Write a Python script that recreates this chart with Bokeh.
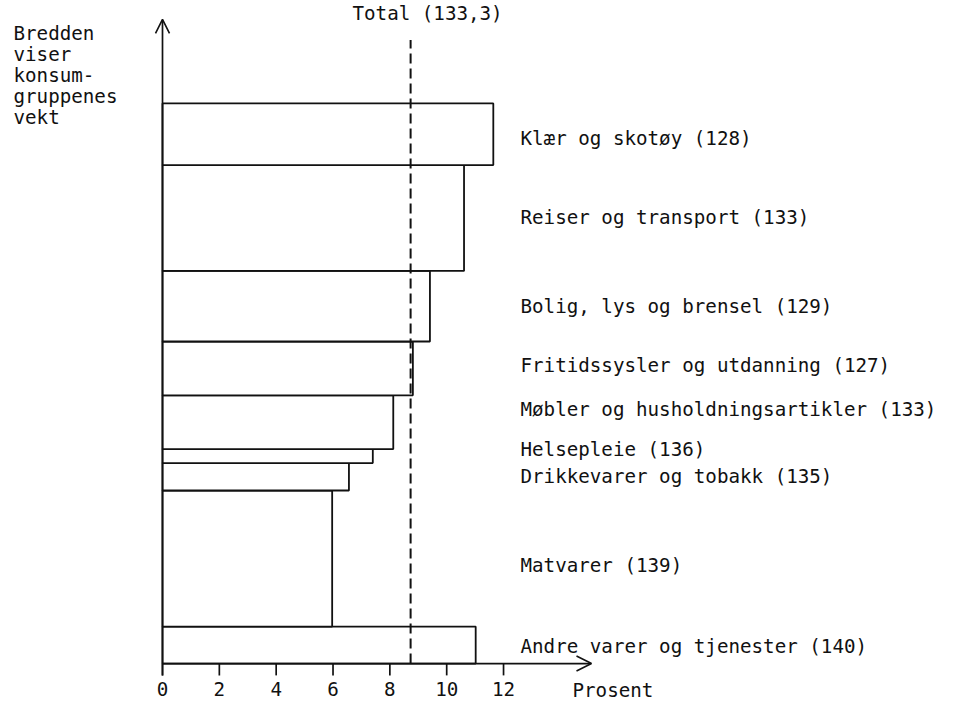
import numpy as np
from bokeh.plotting import figure
from bokeh.models import ColumnDataSource, Arrow, OpenHead, Range1d
from bokeh.core.properties import value
from bokeh.embed import file_html
from bokeh.resources import INLINE

# ---------------- data (bottom -> top) ----------------
groups = [
    "Andre varer og tjenester",
    "Matvarer",
    "Drikkevarer og tobakk",
    "Helsepleie",
    "Møbler og husholdningsartikler",
    "Fritidssysler og utdanning",
    "Bolig, lys og brensel",
    "Reiser og transport",
    "Klær og skotøy",
]
index_values = [140, 139, 135, 136, 133, 127, 129, 133, 128]
weights = [66, 243, 49, 25, 96, 96, 126, 189, 110]          # bar width = weight
pct_change = [11.02, 5.97, 6.56, 7.40, 8.12, 8.81, 9.41, 10.61, 11.64]
total_pct = 8.73
total_index = "133,3"
x_ticks = [0, 2, 4, 6, 8, 10, 12]
x_tick_labels = ["0", "2", "4", "6", "8", "10", "12"]
x_title = "Prosent"
y_title_lines = ["Bredden", "viser", "konsum-", "gruppenes", "vekt"]

# label nudges (screen px, down positive) so tight labels do not overlap
label_nudge_px = [1, 7, 0, -7, -12.7, -3, 0, -0.6, 4.4]

# ---------------- layout ----------------
W, H = 939, 703
A, B = 0.9854, -8.68          # vertical squeeze so everything fits in H
PX_X = 28.42                  # px per percent
PX_Y = 0.5684 * A             # px per weight unit
X0 = 162.0                    # canvas x of 0 %
Y0 = A * 681.7 + B            # canvas y of baseline


def cy_of(ref_y):
    return A * ref_y + B


def X(ref_x):
    return (ref_x - X0) / PX_X


def Y(ref_y):
    return (Y0 - cy_of(ref_y)) / PX_Y


def dy(pix):
    return pix * A / PX_Y


FONT = value("DejaVu Sans Mono")
FS = value("19.2px")
INK = "#111111"

p = figure(width=W, height=H, output_backend="svg", toolbar_location=None,
           x_range=Range1d(X(0), X(W)),
           y_range=Range1d((Y0 - H) / PX_Y, Y0 / PX_Y),
           x_axis_location=None, y_axis_location=None, min_border=0)
p.grid.visible = False
p.outline_line_color = None
p.background_fill_color = "white"
p.border_fill_color = "white"

w = np.array(weights, dtype=float)
bottoms = np.concatenate([[0.0], np.cumsum(w)[:-1]])
tops = bottoms + w
labels = [f"{g} ({v})" for g, v in zip(groups, index_values)]
label_y = (bottoms + tops) / 2 - np.array([dy(n) for n in label_nudge_px])

src = ColumnDataSource(dict(left=[0] * len(w), right=pct_change, bottom=bottoms, top=tops,
                            label=labels, ly=label_y, lx=[X(520)] * len(w)))

p.quad(left="left", right="right", bottom="bottom", top="top", source=src,
       fill_color="white", line_color=INK, line_width=1.8)

p.text(x="lx", y="ly", text="label", source=src, text_font=FONT, text_font_size=FS,
       text_color=INK, text_baseline="middle", text_align="left")

# total dashed line
p.segment(x0=[total_pct], y0=[0], x1=[total_pct], y1=[Y(49)],
          line_color=INK, line_width=2, line_dash="10 5")
p.text(x=[X(352)], y=[Y(22)], text=[f"Total ({total_index})"], text_font=FONT,
       text_font_size=FS, text_color=INK, text_baseline="middle", text_align="left")

# axes with arrows
tick_len = dy(12)
p.add_layout(Arrow(end=OpenHead(size=14, line_width=1.6, line_color=INK),
                   x_start=0, y_start=-tick_len, x_end=0, y_end=Y(28),
                   line_color=INK, line_width=1.7))
p.add_layout(Arrow(end=OpenHead(size=15, line_width=1.6, line_color=INK),
                   x_start=0, y_start=0, x_end=X(591), y_end=0,
                   line_color=INK, line_width=1.7))
p.segment(x0=x_ticks, y0=[0] * len(x_ticks), x1=x_ticks, y1=[-tick_len] * len(x_ticks),
          line_color=INK, line_width=1.7)
p.text(x=x_ticks, y=[Y(708)] * len(x_ticks), text=x_tick_labels, text_font=FONT,
       text_font_size=FS, text_color=INK, text_baseline="middle", text_align="center")
p.text(x=[X(572)], y=[Y(709)], text=[x_title], text_font=FONT, text_font_size=FS,
       text_color=INK, text_baseline="middle", text_align="left")

# y title (left)
p.text(x=[X(13)] * len(y_title_lines),
       y=[Y(42 + 21.3 * i) for i in range(len(y_title_lines))],
       text=y_title_lines, text_font=FONT, text_font_size=FS, text_color=INK,
       text_baseline="middle", text_align="left")

open("out.html", "w").write(file_html(p, INLINE))
